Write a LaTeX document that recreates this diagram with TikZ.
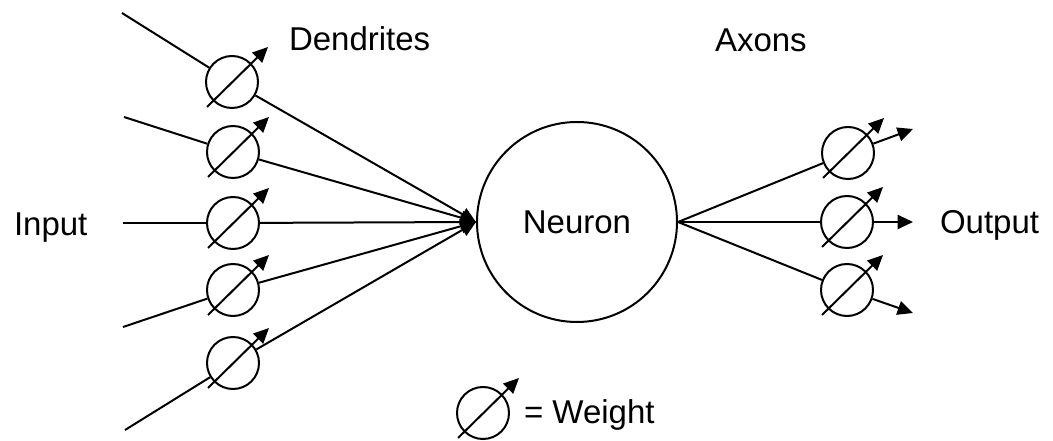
\documentclass[tikz,border=0pt]{standalone}
\usepackage{fontspec}
\setmainfont{Liberation Sans}
\usetikzlibrary{arrows.meta}

\tikzset{every picture/.style={line width=1.5pt}}
\tikzset{
  wt/.style={draw,circle,minimum size=39pt,inner sep=0pt},
  cell/.style={draw,circle,minimum size=150pt,inner sep=0pt,font=\fontsize{24.75}{30}\selectfont},
  tip/.style={-{Triangle[length=11.5pt,width=10.5pt]}},
  lbl/.style={anchor=base west,inner sep=0pt,font=\fontsize{24.75}{30}\selectfont},
}

\begin{document}
\begin{tikzpicture}[x=0.75pt,y=0.75pt,yscale=-1,xscale=1]
        \useasboundingbox (0,0) rectangle (1053,441);

        % neuron
        \node[cell] (neuron) at (577,222) {Neuron};
        \coordinate (dtip) at (476,222);

        % dendrite weights
        \node[wt] (w1) at (232,82) {};
        \node[wt] (w2) at (233,152) {};
        \node[wt] (w3) at (233,223) {};
        \node[wt] (w4) at (233,290) {};
        \node[wt] (w5) at (233,363) {};
        \coordinate (in1) at (122,13);
        \coordinate (in2) at (124,117);
        \coordinate (in3) at (123,223);
        \coordinate (in4) at (123,327);
        \coordinate (in5) at (125,430);

        % axon weights
        \node[wt] (o1) at (848,153) {};
        \node[wt] (o2) at (847,222) {};
        \node[wt] (o3) at (847,290) {};
        \coordinate (out1) at (913,129);
        \coordinate (out2) at (913,222);
        \coordinate (out3) at (913,313);

        % legend
        \node[wt] (wl) at (483,413) {};

        \foreach \i in {1,...,5} {
            \draw (in\i) -- (w\i);
            \draw[tip] (w\i) -- (dtip);
        }
        \foreach \i in {1,2,3} {
            \draw (neuron.east) -- (o\i);
            \draw[tip] (o\i) -- (out\i);
        }
        \foreach \w in {w1,w2,w3,w4,w5,o1,o2,o3,wl}
            \draw[tip] ([shift={(-25,25)}]\w.center) -- ++(61,-60);

        \node[lbl] (dlbl) at (288,51) {Dendrites};
        \node[lbl] (albl) at (714,52) {Axons};
        \node[lbl] (ilbl) at (13,236) {Input};
        \node[lbl] (olbl) at (939,234) {Output};
        \node[lbl] (wlbl) at (523,423) {= Weight};
\end{tikzpicture}
\end{document}
